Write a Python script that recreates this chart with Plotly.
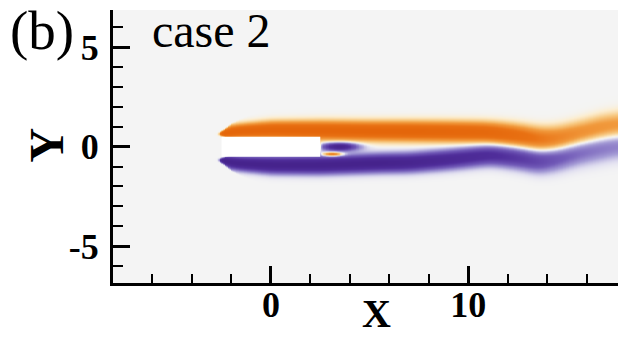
import numpy as np
import plotly.graph_objects as go

# ---- axis ticks -------------------------------------------------------
x_ticks = [0, 10]
x_minor = [-6, -4, -2, 2, 4, 6, 8, 12, 14, 16]
y_ticks = [-5, 0, 5]
y_minor = [-6, -4, -3, -2, -1, 1, 2, 3, 4, 6]

# ---- rectangular body (chord 5, thickness 1) ---------------------------
body_x = [-2.5, 2.5]
body_y = [-0.5, 0.5]

# ---- upper (positive vorticity) shear layer ----------------------------
up_x = [-2.6, -2.0, 0.0, 2.5, 5.0, 7.0, 9.0, 11.0, 12.5, 13.7, 14.5, 15.7, 16.7, 17.6]
up_yc = [0.62, 0.78, 0.86, 0.83, 0.80, 0.79, 0.77, 0.74, 0.58, 0.38, 0.42, 0.69, 0.95, 1.08]
up_w = [0.20, 0.32, 0.40, 0.44, 0.45, 0.46, 0.47, 0.48, 0.52, 0.56, 0.58, 0.60, 0.62, 0.63]
up_amp = [1.0, 1.0, 1.0, 1.0, 1.0, 1.0, 0.97, 0.92, 0.8, 0.66, 0.58, 0.5, 0.46, 0.44]

# ---- lower (negative vorticity) shear layer ----------------------------
lo_x = [-2.6, -2.0, 0.0, 2.5, 5.6, 7.0, 9.0, 11.1, 12.5, 13.6, 14.6, 15.7, 16.5, 17.6]
lo_yc = [-0.62, -0.80, -0.90, -0.90, -0.80, -0.78, -0.62, -0.40, -0.55, -0.74, -0.55, -0.22, -0.08, 0.15]
lo_w = [0.20, 0.32, 0.40, 0.42, 0.43, 0.44, 0.46, 0.48, 0.52, 0.56, 0.60, 0.64, 0.66, 0.68]
lo_amp = [-1.0, -1.0, -1.0, -1.0, -1.0, -0.94, -0.84, -0.74, -0.64, -0.54, -0.44, -0.37, -0.33, -0.30]

# ---- near-wake vortex pair behind the trailing edge --------------------
wk_x = [3.45, 3.1]
wk_y = [0.02, -0.36]
wk_sx = [0.9, 0.5]
wk_sy = [0.2, 0.1]
wk_amp = [-1.0, 0.85]

# ---- build the vorticity field on a regular grid ------------------------
gx = np.arange(-8.0, 17.62, 0.08)
gy = np.arange(-3.0, 3.001, 0.05)
X, Y = np.meshgrid(gx, gy)


def smooth_along_x(xs, vals, sigma=0.45):
    """Interpolate control values onto gx and soften the corners."""
    v = np.interp(gx, xs, vals)
    dx = gx[1] - gx[0]
    k = np.arange(-int(3 * sigma / dx), int(3 * sigma / dx) + 1) * dx
    ker = np.exp(-0.5 * (k / sigma) ** 2)
    ker /= ker.sum()
    pad = len(k) // 2
    vp = np.pad(v, pad, mode="edge")
    return np.convolve(vp, ker, mode="valid")


def layer(xs, yc, w, amp):
    c = smooth_along_x(xs, yc, 0.35)[None, :]
    hw = np.interp(gx, xs, w)[None, :]
    a = smooth_along_x(xs, amp, 0.3)[None, :]
    d = (Y - c) / hw
    prof = np.exp(-np.abs(d) ** 2.2)
    # rounded leading edge of the separated layer
    x0 = xs[0] + 0.35 * np.clip(d, -3, 3) ** 2
    onset = 0.5 * (1 + np.tanh((X - x0) / 0.08))
    return a * prof * onset


Z = layer(up_x, up_yc, up_w, up_amp) + layer(lo_x, lo_yc, lo_w, lo_amp)
for cx, cy, sx, sy, a in zip(wk_x, wk_y, wk_sx, wk_sy, wk_amp):
    behind = 0.5 * (1 + np.tanh((X - body_x[1] - 0.05) / 0.05))
    Z += a * np.exp(-((X - cx) / sx) ** 2 - ((Y - cy) / sy) ** 2) * behind
Z = np.clip(Z, -1, 1).round(3)

scale = [
    [0.00, "rgb(70,35,140)"],
    [0.15, "rgb(80,46,155)"],
    [0.30, "rgb(115,92,185)"],
    [0.40, "rgb(165,156,214)"],
    [0.47, "rgb(224,222,240)"],
    [0.50, "rgb(244,244,244)"],
    [0.53, "rgb(252,238,210)"],
    [0.60, "rgb(248,204,135)"],
    [0.70, "rgb(241,155,62)"],
    [0.85, "rgb(233,114,20)"],
    [1.00, "rgb(228,102,10)"],
]

fig = go.Figure(
    go.Heatmap(x=gx, y=gy, z=Z, colorscale=scale, zmin=-1, zmax=1,
               zsmooth="best", showscale=False, hoverinfo="skip")
)

fig.add_shape(type="rect", x0=body_x[0], x1=body_x[1], y0=body_y[0], y1=body_y[1],
              fillcolor="white", line=dict(width=0), layer="above")

serif = "Liberation Serif"
tickfont = dict(family=serif, size=36, color="black", weight="bold")
axis_common = dict(
    showline=True, linecolor="black", linewidth=3, mirror=False,
    ticks="inside", ticklen=17, tickwidth=3, tickcolor="black",
    showgrid=False, zeroline=False, tickfont=tickfont,
)
fig.update_xaxes(range=[-8, 17.58], tickvals=x_ticks, ticktext=[str(v) for v in x_ticks],
                 minor=dict(tickvals=x_minor, ticks="inside", ticklen=9, tickwidth=1.5,
                            tickcolor="black"),
                 ticklabelstandoff=-12, **axis_common)
fig.update_yaxes(range=[-6.85, 6.87], tickvals=y_ticks, ticktext=[str(v) for v in y_ticks],
                 minor=dict(tickvals=y_minor, ticks="inside", ticklen=10, tickwidth=1.5,
                            tickcolor="black"),
                 ticklabelstandoff=4, **axis_common)

fig.add_annotation(text="(b)", x=-0.14, y=0.925, xref="paper", yref="paper",
                   xanchor="center", yanchor="middle", showarrow=False,
                   font=dict(family=serif, size=55, color="black"))
fig.add_annotation(text="case 2", x=0.196, y=0.925, xref="paper", yref="paper",
                   xanchor="center", yanchor="middle", showarrow=False,
                   font=dict(family=serif, size=48, color="black"))
fig.add_annotation(text="X", x=0.521, y=-0.112, xref="paper", yref="paper",
                   xanchor="center", yanchor="middle", showarrow=False,
                   font=dict(family=serif, size=40, color="black", weight="bold"))
fig.add_annotation(text="Y", x=-0.132, y=0.505, xref="paper", yref="paper", textangle=-90,
                   xanchor="center", yanchor="middle", showarrow=False,
                   font=dict(family=serif, size=48, color="black", weight="bold"))

fig.update_layout(
    width=618, height=337,
    margin=dict(l=113, r=0, t=10, b=54),
    paper_bgcolor="white", plot_bgcolor="rgb(244,244,244)",
    showlegend=False,
)

fig.write_html("out.html")
